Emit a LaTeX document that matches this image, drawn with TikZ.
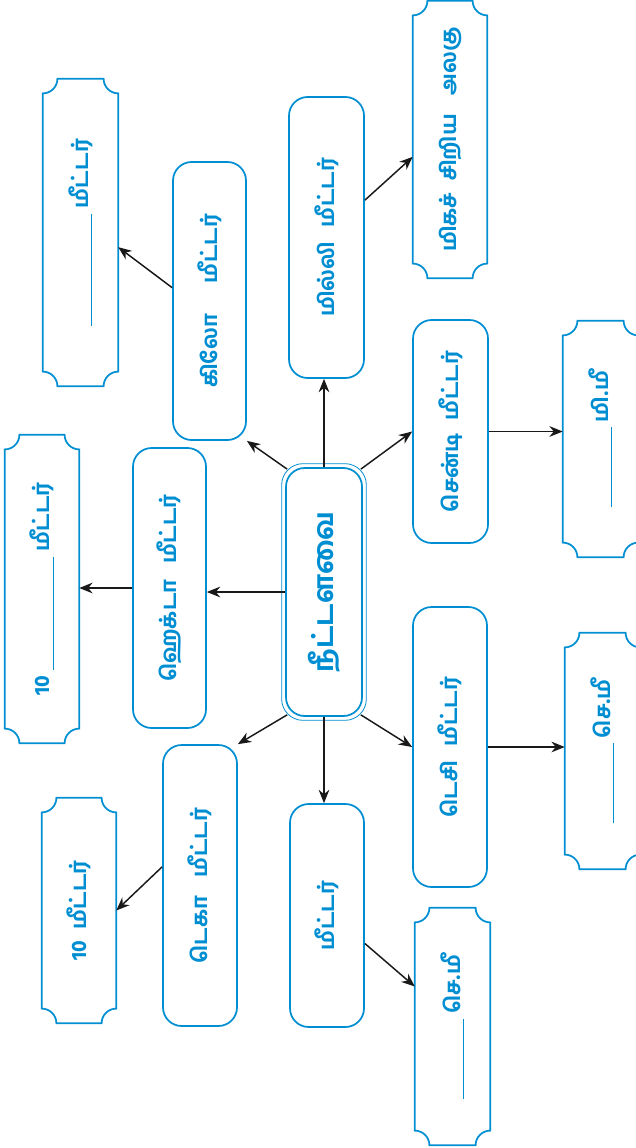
\documentclass[tikz,border=0pt]{standalone}
\usepackage{fontspec}
\usetikzlibrary{arrows.meta,calc}
\IfFontExistsTF{Hind Madurai Bold}
  {\newfontfamily\tamil[Script=Tamil]{Hind Madurai Bold}}
  {\IfFontExistsTF{Hind Madurai SemiBold}
    {\newfontfamily\tamil[Script=Tamil]{Hind Madurai SemiBold}}
    {\newfontfamily\tamil[Script=Tamil, FakeBold=3]{Hind Madurai}}}
\definecolor{boxblue}{RGB}{0,142,211}
\tikzset{
  rbox/.style={draw=boxblue, line width=1.3pt, rounded corners=14pt, rectangle, inner sep=0pt,
    text=boxblue, font=\tamil\fontsize{16}{18}\selectfont},
  sbox/.style={draw=none, rectangle, inner sep=0pt, text=boxblue,
    font=\tamil\fontsize{16}{18}\selectfont},
  sline/.style={draw=boxblue, line width=1.3pt},
  arr/.style={draw=black!90, line width=1.1pt, -{Stealth[length=10pt,width=8pt]}}
}
\newcommand{\rt}[1]{\rotatebox{90}{#1}}
\newcommand{\blank}[1]{\rule[-3pt]{#1}{0.7pt}}
\newcommand{\gap}[1]{\hspace*{#1}}
\newcommand{\scrollshape}[1]{%
  \draw[sline] ([yshift=-11pt]#1.north west) arc[start angle=-90,end angle=0,radius=11pt]
    -- ([xshift=-11pt]#1.north east) arc[start angle=180,end angle=270,radius=11pt]
    -- ([yshift=11pt]#1.south east) arc[start angle=90,end angle=180,radius=11pt]
    -- ([xshift=11pt]#1.south west) arc[start angle=0,end angle=90,radius=11pt]
    -- cycle;}
\begin{document}
\begin{tikzpicture}[x=0.75pt,y=-0.75pt]
\useasboundingbox (0,0) rectangle (635,1148);
% centre
\node[rbox, minimum width=57pt, minimum height=186pt, font=\tamil\fontsize{20.5}{24}\selectfont] (c) at (324,592) {\rt{நீட்டளவை}};
\draw[boxblue, line width=0.6pt, rounded corners=16pt] ([shift={(-2.6pt,2.6pt)}]c.north west) rectangle ([shift={(2.6pt,-2.6pt)}]c.south east);
% rounded boxes
\node[rbox, minimum width=54.75pt, minimum height=208.5pt] (k) at (209.5,301) {\rt{கிலோ\gap{23pt}மீட்டர்}};
\node[rbox, minimum width=56.25pt, minimum height=210.75pt] (mi) at (326.5,237.5) {\rt{மில்லி\gap{11pt}மீட்டர்}};
\node[rbox, minimum width=54.75pt, minimum height=210pt] (h) at (169.5,588) {\rt{ஹெக்டா\gap{12pt}மீட்டர்}};
\node[rbox, minimum width=55.5pt, minimum height=210.75pt] (d) at (200,885.5) {\rt{டெகா\gap{14pt}மீட்டர்}};
\node[rbox, minimum width=55.5pt, minimum height=167.25pt] (m) at (327,915.5) {\rt{மீட்டர்}};
\node[rbox, minimum width=55.5pt, minimum height=210pt] (de) at (450,747) {\rt{டெசி\gap{11pt}மீட்டர்}};
\node[rbox, minimum width=56.25pt, minimum height=167.25pt] (ce) at (450.5,431.5) {\rt{சென்டி\gap{10pt}மீட்டர்}};
% scroll boxes
\node[sbox, minimum width=55.5pt, minimum height=207.75pt] (s1) at (450,139.5) {\rt{மிகச்\gap{9pt}சிறிய\gap{14pt}அலகு}};
\node[sbox, minimum width=56.25pt, minimum height=230.25pt] (s2) at (80.5,232.5) {\rt{\blank{84pt} மீட்டர்}};
\node[sbox, minimum width=55.5pt, minimum height=231pt] (s3) at (42,589) {\rt{10 \blank{85pt} மீட்டர்}};
\node[sbox, minimum width=55.5pt, minimum height=168.75pt] (s4) at (79,910.5) {\rt{10\gap{8pt}மீட்டர்}};
\node[sbox, minimum width=56.25pt, minimum height=177.75pt] (s5) at (452.5,1026.5) {\rt{\blank{60pt} செ.மீ}};
\node[sbox, minimum width=56.25pt, minimum height=177pt] (s6) at (602.5,751) {\rt{\blank{60pt} செ.மீ}};
\node[sbox, minimum width=56.25pt, minimum height=177pt] (s7) at (600.5,439) {\rt{\blank{60pt} மி.மீ}};
\foreach \n in {s1,s2,s3,s4,s5,s6,s7} {\scrollshape{\n}}
% arrows from centre
\draw[arr] (c.north) -- (c.north |- mi.south);
\draw[arr] ([shift={(1.5pt,-1.5pt)}]c.north west) -- (k.south east);
\draw[arr] ([shift={(-1.5pt,-1.5pt)}]c.north east) -- (ce.west);
\draw[arr] (c.west) -- (c.west -| h.east);
\draw[arr] ([shift={(1.5pt,1.5pt)}]c.south west) -- (d.north east);
\draw[arr] (c.south) -- (c.south |- m.north);
\draw[arr] ([shift={(-1.5pt,1.5pt)}]c.south east) -- (de.west);
% arrows to answer boxes
\draw[arr] ([yshift=10pt]k.west) -- ([yshift=-11pt]s2.east);
\draw[arr] ([yshift=28pt]mi.east) -- ([yshift=-13pt]s1.west);
\draw[arr] (h.west) -- (h.west -| s3.east);
\draw[arr] ([yshift=14pt]d.west) -- (s4.east);
\draw[arr] ([yshift=-21pt]m.east) -- ([yshift=30pt]s5.west);
\draw[arr] (ce.east) -- (ce.east -| s7.west);
\draw[arr] (de.east) -- (de.east -| s6.west);
\end{tikzpicture}
\end{document}
